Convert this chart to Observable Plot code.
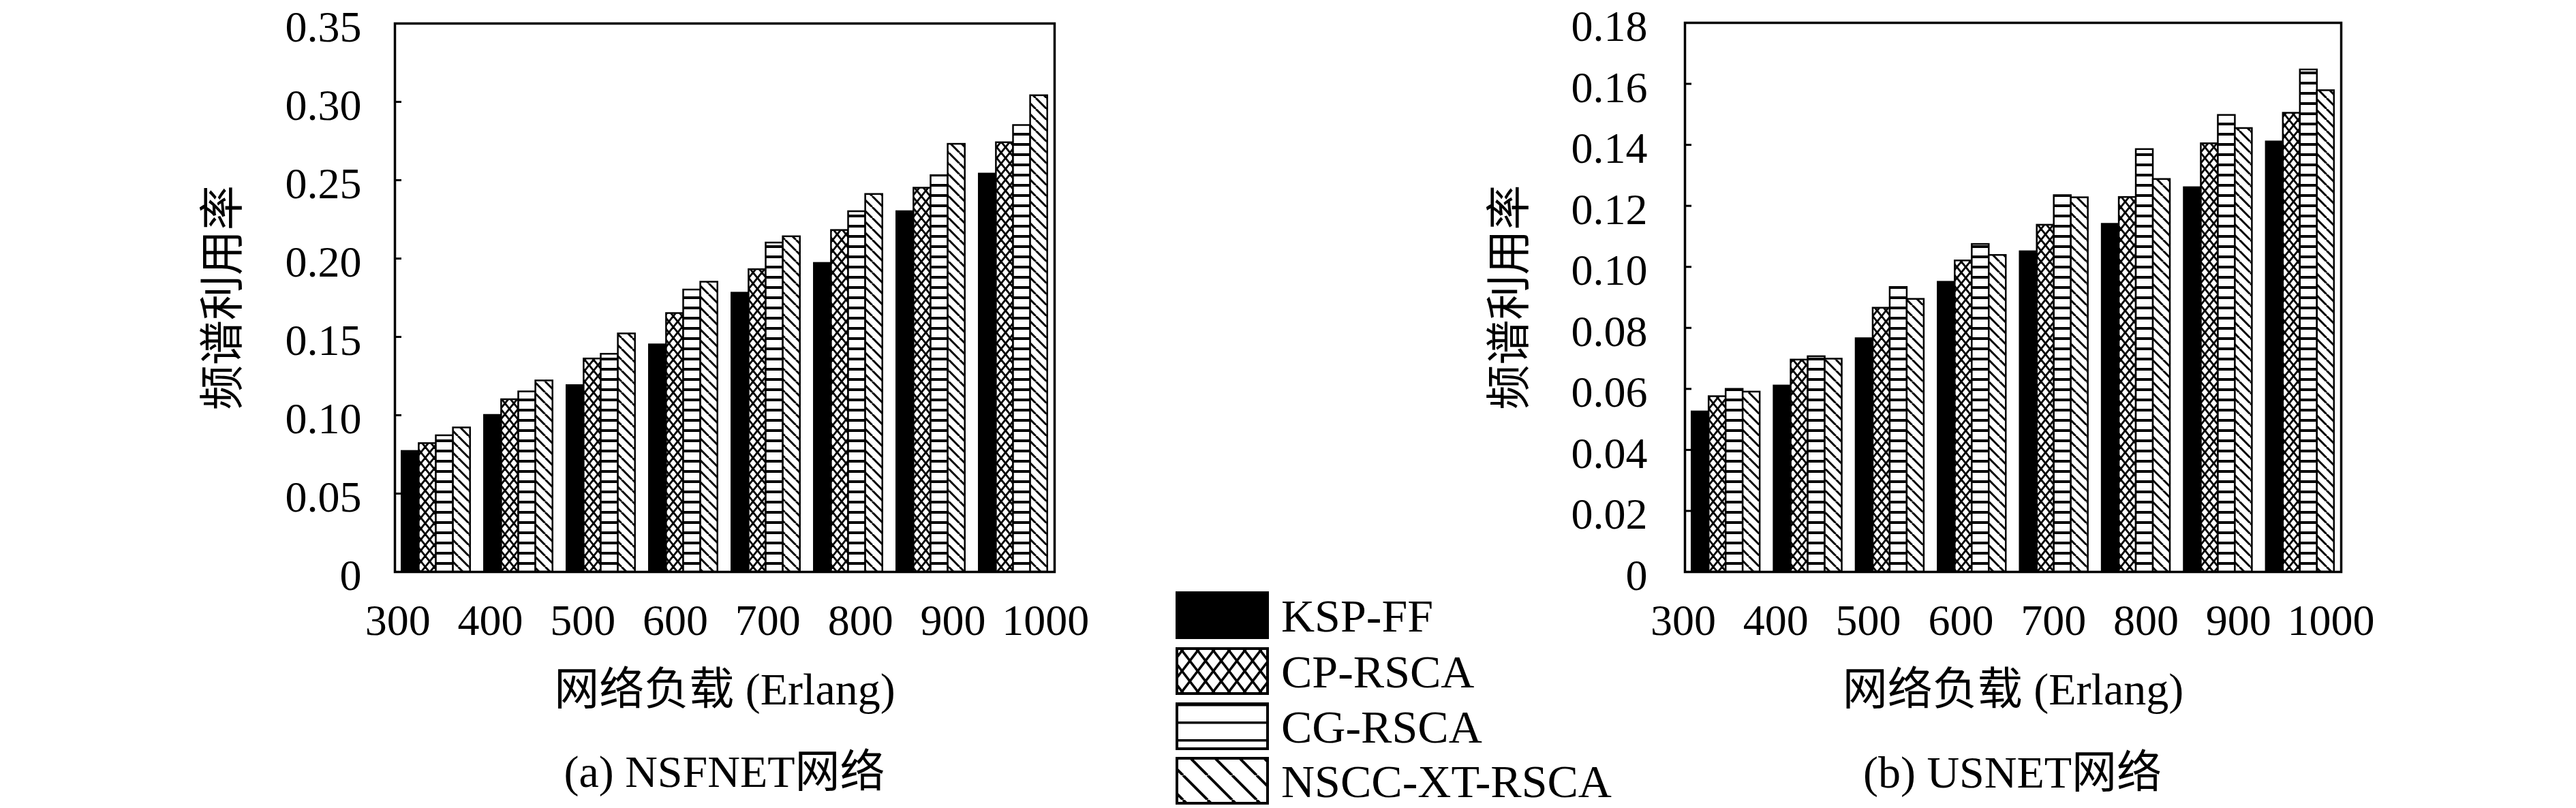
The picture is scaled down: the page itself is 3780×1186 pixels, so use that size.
<!DOCTYPE html>
<html>
<head>
<meta charset="utf-8">
<script src="https://cdn.jsdelivr.net/npm/d3@7"></script>
<script src="https://cdn.jsdelivr.net/npm/@observablehq/plot@0.6"></script>
<style>
  html, body { margin: 0; padding: 0; background: #ffffff; }
  #root { position: relative; width: 3780px; height: 1186px; background: #ffffff; overflow: hidden;
          font-family: "Liberation Serif", "Noto Sans CJK SC", serif; color: #000; }
  .abs { position: absolute; }
  .cap { position: absolute; white-space: nowrap; font-size: 66px; line-height: 1; transform: translate(-50%, -50%); }
</style>
</head>
<body>
<div id="root"></div>
<script>
// ---------------- data ----------------
const loads = [300, 400, 500, 600, 700, 800, 900, 1000];
const methods = ["KSP-FF", "CP-RSCA", "CG-RSCA", "NSCC-XT-RSCA"];

// (a) NSFNET
const nsfKSP  = [0.077, 0.100, 0.119, 0.145, 0.178, 0.197, 0.230, 0.254];
const nsfCP   = [0.082, 0.110, 0.136, 0.165, 0.193, 0.218, 0.245, 0.274];
const nsfCG   = [0.087, 0.115, 0.139, 0.180, 0.210, 0.230, 0.253, 0.285];
const nsfNSCC = [0.092, 0.122, 0.152, 0.185, 0.214, 0.241, 0.273, 0.304];

// (b) USNET
const usKSP  = [0.0525, 0.061, 0.0765, 0.095, 0.105, 0.114, 0.126, 0.141];
const usCP   = [0.0575, 0.0695, 0.0865, 0.102, 0.1137, 0.1228, 0.1404, 0.1504];
const usCG   = [0.0599, 0.0706, 0.0933, 0.1074, 0.1234, 0.1385, 0.1497, 0.1646];
const usNSCC = [0.0590, 0.0698, 0.0894, 0.1038, 0.1227, 0.1287, 0.1454, 0.1578];

const nsfTicks = [0, 0.05, 0.10, 0.15, 0.20, 0.25, 0.30, 0.35];
const usTicks  = [0, 0.02, 0.04, 0.06, 0.08, 0.10, 0.12, 0.14, 0.16, 0.18];

const yLabel = "频谱利用率";
const xLabel = "网络负载 (Erlang)";
const captionA = "(a) NSFNET网络";
const captionB = "(b) USNET网络";

// ---------------- patterns ----------------
const defsSvg = d3.select("#root").append("svg")
  .attr("width", 0).attr("height", 0).style("position", "absolute");
const defs = defsSvg.append("defs");

function crossPattern(id, w, h, sw) {
  const p = defs.append("pattern").attr("id", id).attr("patternUnits", "userSpaceOnUse")
    .attr("width", w).attr("height", h);
  p.append("rect").attr("width", w).attr("height", h).attr("fill", "#fff");
  for (const k of [-1, 0, 1]) {
    p.append("line").attr("x1", k * w).attr("y1", 0).attr("x2", k * w + w).attr("y2", h)
      .attr("stroke", "#000").attr("stroke-width", sw);
    p.append("line").attr("x1", k * w + w).attr("y1", 0).attr("x2", k * w).attr("y2", h)
      .attr("stroke", "#000").attr("stroke-width", sw);
  }
}
function hPattern(id, w, h, sw, y0) {
  const p = defs.append("pattern").attr("id", id).attr("patternUnits", "userSpaceOnUse")
    .attr("width", w).attr("height", h).attr("y", y0 || 0);
  p.append("rect").attr("width", w).attr("height", h).attr("fill", "#fff");
  p.append("rect").attr("width", w).attr("height", sw).attr("fill", "#000");
}
function diagPattern(id, s, sw) {
  const p = defs.append("pattern").attr("id", id).attr("patternUnits", "userSpaceOnUse")
    .attr("width", s).attr("height", s);
  p.append("rect").attr("width", s).attr("height", s).attr("fill", "#fff");
  for (const k of [-1, 0, 1]) {
    p.append("line").attr("x1", k * s).attr("y1", 0).attr("x2", k * s + s).attr("y2", s)
      .attr("stroke", "#000").attr("stroke-width", sw);
  }
}
crossPattern("barCross", 13, 16, 2.8);
hPattern("barH", 10, 15, 4, 0);
diagPattern("barDiag", 16, 3);
crossPattern("legCross", 23, 30, 3.5);
hPattern("legH", 10, 26, 3.5, 183);
diagPattern("legDiag", 36, 4);

const barFills = ["#000", "url(#barCross)", "url(#barH)", "url(#barDiag)"];
const legFills = ["#000", "url(#legCross)", "url(#legH)", "url(#legDiag)"];

// ---------------- panels ----------------
const groupFrac = 0.83;
const bw = groupFrac / methods.length;
const TOP = 0;

function panel(opts) {
  const { series, yMax, yTicks, fmt, left, width, height, mL, mR, mT, mB, tickPad, yLabDx, labStart, labEnd } = opts;
  const rows = loads.flatMap((l, g) => methods.map((m, k) => ({ g, k, load: l, method: m, value: series[k][g] })));
  const labelRows = loads.map(l => ({
    label: String(l),
    pos: labStart + (l - loads[0]) / (loads[loads.length - 1] - loads[0]) * (labEnd - labStart)
  }));
  const frameW = width - mL - mR;
  const chart = Plot.plot({
    width, height,
    marginLeft: mL, marginRight: mR, marginTop: mT, marginBottom: mB,
    x: { domain: [0, loads.length], axis: null },
    y: { domain: [0, yMax], axis: null },
    style: { background: "transparent", fontFamily: '"Liberation Serif", "Noto Sans CJK SC", serif', fontSize: "64px", color: "#000", overflow: "visible" },
    marks: [
      ...methods.map((m, k) => Plot.rectY(rows.filter(d => d.k === k), {
        x1: d => d.g + 0.5 + (d.k - methods.length / 2) * bw,
        x2: d => d.g + 0.5 + (d.k - methods.length / 2 + 1) * bw,
        y1: 0, y2: "value",
        fill: barFills[k], stroke: "#000", strokeWidth: 2.5
      })),
      Plot.frame({ stroke: "#000", strokeWidth: 3.5 }),
      Plot.tickY(yTicks, { y: d => d, insetRight: frameW - 10, stroke: "#000", strokeWidth: 3 }),
      Plot.axisY(yTicks, { tickSize: 0, tickPadding: tickPad, tickFormat: fmt, label: null, fontSize: 64, dy: 6 }),
      Plot.text(labelRows, { x: "pos", text: "label", frameAnchor: "bottom", dy: 72, fontSize: 64, lineAnchor: "middle" }),
      Plot.text([xLabel], { frameAnchor: "bottom", dy: 173, fontSize: 66, lineAnchor: "middle" }),
      Plot.text([yLabel], { frameAnchor: "left", textAnchor: "middle", lineAnchor: "middle", rotate: -90, dx: yLabDx, fontSize: 66 })
    ]
  });
  chart.style.position = "absolute";
  chart.style.left = left + "px";
  chart.style.top = TOP + "px";
  chart.style.maxWidth = "none";
  document.getElementById("root").appendChild(chart);
}

panel({
  series: [nsfKSP, nsfCP, nsfCG, nsfNSCC], yMax: 0.35, yTicks: nsfTicks,
  fmt: d => d === 0 ? "0" : d.toFixed(2),
  left: 0, width: 1620, height: 1060, mL: 579, mR: 73, mT: 34 - TOP, mB: 1060 - (839 - TOP),
  tickPad: 49, yLabDx: -252, labStart: 0.035, labEnd: 7.89
});
panel({
  series: [usKSP, usCP, usCG, usNSCC], yMax: 0.18, yTicks: usTicks,
  fmt: d => d === 0 ? "0" : d.toFixed(2),
  left: 2150, width: 1630, height: 1060, mL: 322, mR: 345, mT: 33 - TOP, mB: 1060 - (839 - TOP),
  tickPad: 55, yLabDx: -257, labStart: -0.02, labEnd: 7.875
});

// ---------------- captions ----------------
const root = d3.select("#root");
root.append("div").attr("class", "cap").style("left", "1063px").style("top", "1133px").text(captionA);
root.append("div").attr("class", "cap").style("left", "2953px").style("top", "1134px").text(captionB);

// ---------------- legend ----------------
const legend = root.append("svg").attr("class", "abs")
  .style("left", "1700px").style("top", "850px")
  .attr("width", 760).attr("height", 336);
const boxY = [20, 102, 183, 263];
methods.forEach((m, k) => {
  legend.append("rect").attr("x", 27).attr("y", boxY[k]).attr("width", 133).attr("height", 66)
    .attr("fill", legFills[k]).attr("stroke", "#000").attr("stroke-width", 4);
  legend.append("text").attr("x", 180).attr("y", boxY[k] + 33).attr("dy", "0.35em")
    .attr("font-family", '"Liberation Serif", serif').attr("font-size", 68).text(m);
});
</script>
</body>
</html>
